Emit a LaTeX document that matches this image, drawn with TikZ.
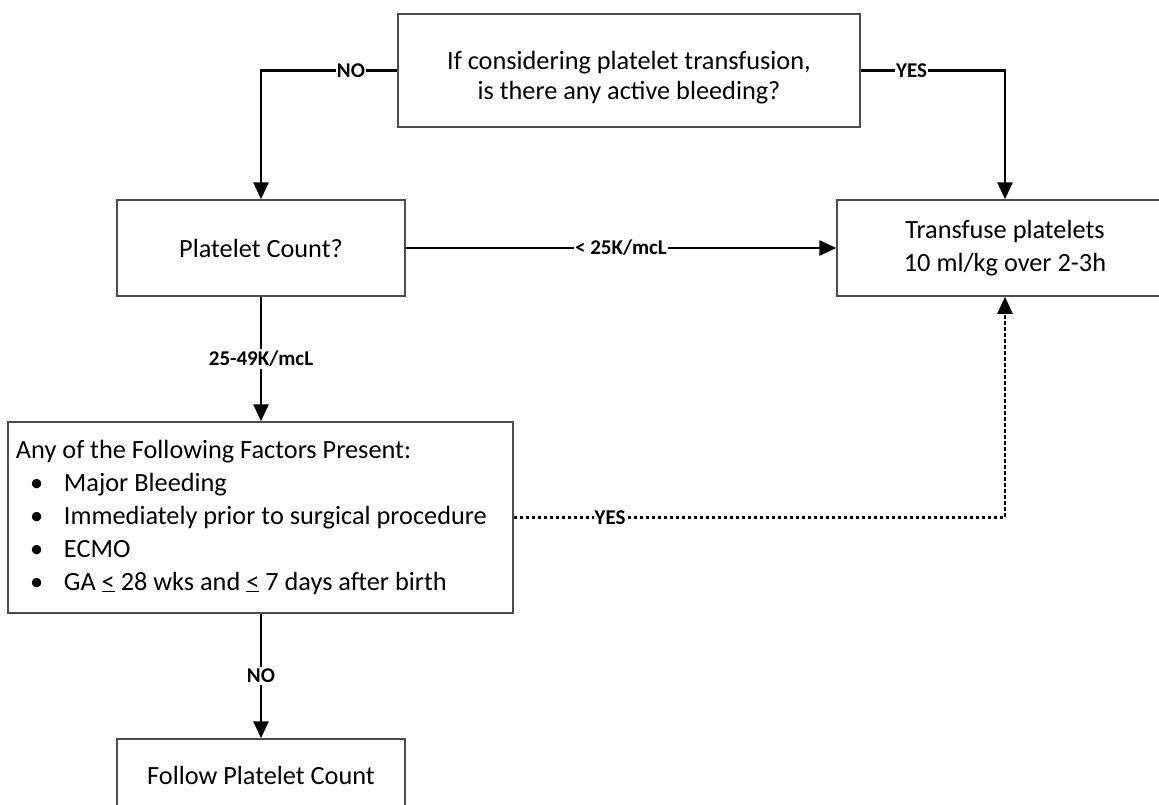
\documentclass[tikz,border=0pt]{standalone}
\usepackage{fontspec}
\setmainfont{Carlito}
\usetikzlibrary{arrows.meta}
\newcommand{\bulletitem}{\makebox[48pt][l]{\hspace{14pt}•}}
\newcommand{\ule}{\underline{<}}
\begin{document}
\begin{tikzpicture}[x=1pt,y=-1pt,
  box/.style={draw=black!70, line width=1.5pt, fill=white, inner sep=0pt,
    align=center, font=\fontsize{26.3}{33}\selectfont},
  conn/.style={line width=2.8pt, -{Triangle[length=17pt,width=15pt]}},
  dotconn/.style={line width=2.6pt, dash pattern=on 3.5pt off 2.5pt, -{Triangle[length=17pt,width=15pt]}},
  lbl/.style={fill=white, inner xsep=1pt, inner ysep=2pt, font=\fontsize{21}{24}\selectfont\bfseries}
]
\useasboundingbox (0,0) rectangle (1159,804);
\clip (0,0) rectangle (1159,804);
\fill[white] (0,0) rectangle (1159,804);

\node[box, minimum width=462pt, minimum height=113pt, font=\fontsize{26.3}{30}\selectfont] (top) at (629,70.5)
  {\raisebox{-8pt}[\height][\depth]{\begin{tabular}{@{}c@{}}If considering platelet transfusion,\\is there any active bleeding?\end{tabular}}};
\node[box, minimum width=288pt, minimum height=96pt] (plt) at (261,248) {Platelet Count?};
\node[box, minimum width=336pt, minimum height=96pt] (trans) at (1005,248)
  {Transfuse platelets\\10 ml/kg over 2-3h};
\node[box, minimum width=505pt, minimum height=191pt, text width=489pt, inner xsep=8pt, align=left] (fac) at (260.5,517.5)
  {\spaceskip=0pt\xspaceskip=0pt\begin{tabular}{@{}l@{}}
   Any of the Following Factors Present:\\
   \bulletitem Major Bleeding\\
   \bulletitem Immediately prior to surgical procedure\\
   \bulletitem ECMO\\
   \bulletitem GA \ule{} 28 wks and \ule{} 7 days after birth
   \end{tabular}};
\node[box, minimum width=288pt, minimum height=72pt] (fol) at (261,775) {Follow Platelet Count};

\draw[conn] (top.west) -| node[lbl, pos=0.17] {NO} (plt.north);
\draw[conn] (top.east) -| node[lbl, pos=0.176] {YES} (trans.north);
\draw[conn] (plt.east) -- node[lbl] {< 25K/mcL} (trans.west);
\draw[conn] (plt.south) -- node[lbl] {25-49K/mcL} (plt.south |- fac.north);
\draw[dotconn] (fac.east) -| node[lbl, pos=0.098] {YES} (trans.south);
\draw[conn] (fac.south -| fol.north) -- node[lbl] {NO} (fol.north);
\end{tikzpicture}
\end{document}
